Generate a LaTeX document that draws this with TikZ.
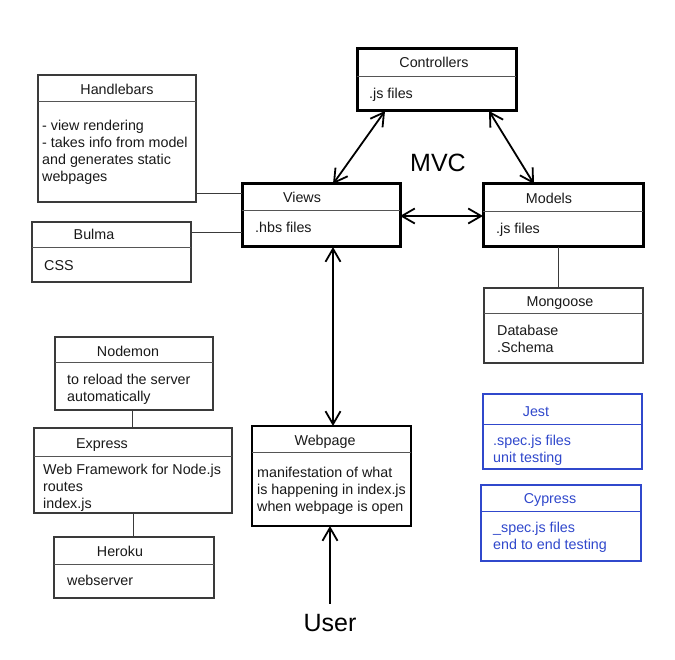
\documentclass[tikz,border=0pt]{standalone}
\usepackage{fontspec}
\setmainfont{Liberation Sans}
\usetikzlibrary{arrows.meta,calc}
\definecolor{thinink}{HTML}{3A3A3A}
\definecolor{divink}{HTML}{555555}
\definecolor{testblue}{HTML}{3048CC}
\begin{document}
\begin{tikzpicture}[x=1pt,y=-1pt,
  boxbase/.style={inner sep=0pt,outer sep=0pt,anchor=north west},
  heavybox/.style={boxbase,draw=black,line width=3pt},
  midbox/.style={boxbase,draw=black,line width=2.2pt},
  thinbox/.style={boxbase,draw=thinink,line width=1.2pt},
  bluebox/.style={boxbase,draw=testblue,line width=1.2pt},
  div/.style={draw=divink,line width=1pt},
  bluediv/.style={draw=testblue,line width=1pt},
  title/.style={anchor=base,inner sep=0pt,font=\fontsize{14.3}{17}\selectfont,text=black!90},
  body/.style={anchor=north west,inner sep=0pt,align=left,font=\fontsize{14.3}{17}\selectfont,text=black!90},
  conn/.style={draw=thinink,line width=1pt},
  arr/.style={draw=black,line width=1.8pt,{Straight Barb[length=13pt,width=15pt]}-{Straight Barb[length=13pt,width=15pt]}},
  arrone/.style={draw=black,line width=1.8pt,-{Straight Barb[length=13pt,width=15pt]}},
  big/.style={inner sep=0pt,font=\fontsize{25}{30}\selectfont,text=black}
]
\useasboundingbox[fill=white] (0,0) rectangle (675,660);

% Controllers
\node[heavybox,minimum width=159,minimum height=62] (ctrl) at (357,49) {};
\draw[div] (ctrl.west |- 0,77) -- (ctrl.east |- 0,77);
\node[title] (ctrlT) at (434,68) {Controllers};
\node[body] (ctrlB) at (369,86) {\strut .js files};

% Views
\node[heavybox,minimum width=158,minimum height=63] (views) at (242,184) {};
\draw[div] (views.west |- 0,211) -- (views.east |- 0,211);
\node[title] (viewsT) at (302,203) {Views};
\node[body] (viewsB) at (255,220) {\strut .hbs files};

% Models
\node[heavybox,minimum width=160,minimum height=63] (models) at (483,184) {};
\draw[div] (models.west |- 0,212) -- (models.east |- 0,212);
\node[title] (modelsT) at (549,204) {Models};
\node[body] (modelsB) at (496,221) {\strut .js files};

% Handlebars
\node[thinbox,minimum width=158,minimum height=127] (hb) at (38,75) {};
\draw[div] (hb.west |- 0,102) -- (hb.east |- 0,102);
\node[title] (hbT) at (117,95) {Handlebars};
\node[body] (hbB) at (42,118) {\strut - view rendering\\- takes info from model\\and generates static\\webpages};

% Bulma
\node[thinbox,minimum width=159,minimum height=60] (bulma) at (32,222) {};
\draw[div] (bulma.west |- 0,248) -- (bulma.east |- 0,248);
\node[title] (bulmaT) at (94,240) {Bulma};
\node[body] (bulmaB) at (44,258) {\strut CSS};

% Mongoose
\node[thinbox,minimum width=159,minimum height=75] (mongo) at (484,288) {};
\draw[div] (mongo.west |- 0,314) -- (mongo.east |- 0,314);
\node[title] (mongoT) at (560,307) {Mongoose};
\node[body] (mongoB) at (497,323) {\strut Database\\.Schema};

% Nodemon
\node[thinbox,minimum width=158,minimum height=73] (nodemon) at (55,337) {};
\draw[div] (nodemon.west |- 0,363) -- (nodemon.east |- 0,363);
\node[title] (nodemonT) at (128,357) {Nodemon};
\node[body] (nodemonB) at (67,372) {\strut to reload the server\\automatically};

% Express
\node[thinbox,minimum width=198,minimum height=85] (express) at (34,428) {};
\draw[div] (express.west |- 0,456) -- (express.east |- 0,456);
\node[title] (expressT) at (102,448) {Express};
\node[body] (expressB) at (43,462) {\strut Web Framework for Node.js\\routes\\index.js};

% Heroku
\node[thinbox,minimum width=160,minimum height=61] (heroku) at (54,537) {};
\draw[div] (heroku.west |- 0,564) -- (heroku.east |- 0,564);
\node[title] (herokuT) at (120,556) {Heroku};
\node[body] (herokuB) at (67,573) {\strut webserver};

% Webpage
\node[midbox,minimum width=159,minimum height=100] (webpage) at (252,426) {};
\draw[div] (webpage.west |- 0,452) -- (webpage.east |- 0,452);
\node[title] (webpageT) at (325,445) {Webpage};
\node[body] (webpageB) at (257,465) {\strut manifestation of what\\is happening in index.js\\when webpage is open};

% Jest
\node[bluebox,minimum width=159,minimum height=75] (jest) at (483,394) {};
\draw[bluediv] (jest.west |- 0,424) -- (jest.east |- 0,424);
\node[title,text=testblue] (jestT) at (536,417) {Jest};
\node[body,text=testblue] (jestB) at (493,433) {\strut .spec.js files\\unit testing};

% Cypress
\node[bluebox,minimum width=160,minimum height=76] (cypress) at (481,485) {};
\draw[bluediv] (cypress.west |- 0,511) -- (cypress.east |- 0,511);
\node[title,text=testblue] (cypressT) at (550,503) {Cypress};
\node[body,text=testblue] (cypressB) at (493,520) {\strut \_spec.js files\\end to end testing};

% Labels
\node[big] (mvc) at (438,163) {MVC};
\node[big,anchor=base,inner sep=10pt] (user) at (330,631) {User};

% Plain connectors
\draw[conn] (hb.east |- 0,194) -- (views.west |- 0,194);
\draw[conn] (bulma.east |- 0,233) -- (views.west |- 0,233);
\draw[conn] ($(models.south west)+(75,0)$) -- ($(mongo.north west)+(74,0)$);
\draw[conn] ($(nodemon.south west)+(77,0)$) -- ($(express.north west)+(98,0)$);
\draw[conn] ($(express.south west)+(99,0)$) -- ($(heroku.north west)+(79,0)$);

% Arrows
\draw[arr] ($(ctrl.south west)+(28,0)$) -- ($(views.north east)+(-67,0)$);
\draw[arr] ($(ctrl.south west)+(132,0)$) -- ($(models.north west)+(51,0)$);
\draw[arr] (views.east |- 0,216) -- (models.west |- 0,216);
\draw[arr] ($(views.south west)+(91,0)$) -- ($(webpage.north west)+(81,0)$);
\draw[arrone] (user.north) -- (webpage.south -| user.north);
\end{tikzpicture}
\end{document}
